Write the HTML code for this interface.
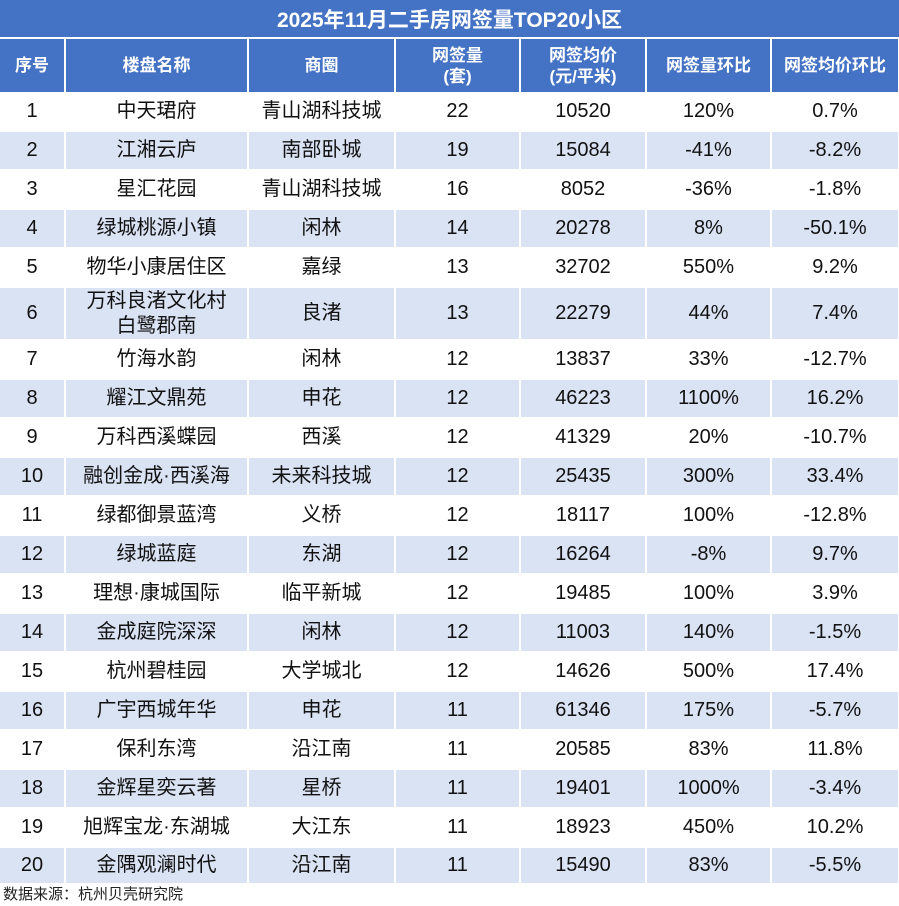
<!DOCTYPE html>
<html><head><meta charset="utf-8"><style>
body{margin:0;width:899px;height:906px;background:#fff;position:relative;overflow:hidden;font-family:"Liberation Sans","Noto Sans CJK SC",sans-serif;}
.c{position:absolute;display:flex;align-items:center;justify-content:center;text-align:center;box-sizing:border-box;}
.t{left:0;top:0;width:899px;height:37px;background:#4472c4;color:#fff;font-weight:bold;font-size:21px;}
.h{background:#4472c4;color:#fff;font-weight:bold;font-size:17px;line-height:21px;}
.d{font-size:20px;color:#111;line-height:25px;}
.b{background:#dae3f3;}
.f{position:absolute;left:3px;top:883px;font-size:15px;color:#222;}
</style></head><body>
<div class="c t">2025年11月二手房网签量TOP20小区</div>
<div id="g"></div>
<div class="f">数据来源：杭州贝壳研究院</div>
<script>
var cols=[[0,64],[66,247],[249,394],[396,519],[521,645],[647,770],[772,898]];
var H=["序号","楼盘名称","商圈","网签量<br>(套)","网签均价<br>(元/平米)","网签量环比","网签均价环比"];
var D=[
["1","中天珺府","青山湖科技城","22","10520","120%","0.7%"],
["2","江湘云庐","南部卧城","19","15084","-41%","-8.2%"],
["3","星汇花园","青山湖科技城","16","8052","-36%","-1.8%"],
["4","绿城桃源小镇","闲林","14","20278","8%","-50.1%"],
["5","物华小康居住区","嘉绿","13","32702","550%","9.2%"],
["6","万科良渚文化村<br>白鹭郡南","良渚","13","22279","44%","7.4%"],
["7","竹海水韵","闲林","12","13837","33%","-12.7%"],
["8","耀江文鼎苑","申花","12","46223","1100%","16.2%"],
["9","万科西溪蝶园","西溪","12","41329","20%","-10.7%"],
["10","融创金成·西溪海","未来科技城","12","25435","300%","33.4%"],
["11","绿都御景蓝湾","义桥","12","18117","100%","-12.8%"],
["12","绿城蓝庭","东湖","12","16264","-8%","9.7%"],
["13","理想·康城国际","临平新城","12","19485","100%","3.9%"],
["14","金成庭院深深","闲林","12","11003","140%","-1.5%"],
["15","杭州碧桂园","大学城北","12","14626","500%","17.4%"],
["16","广宇西城年华","申花","11","61346","175%","-5.7%"],
["17","保利东湾","沿江南","11","20585","83%","11.8%"],
["18","金辉星奕云著","星桥","11","19401","1000%","-3.4%"],
["19","旭辉宝龙·东湖城","大江东","11","18923","450%","10.2%"],
["20","金隅观澜时代","沿江南","11","15490","83%","-5.5%"]];
var s="";
cols.forEach(function(c,j){s+='<div class="c h" style="left:'+c[0]+'px;top:39px;width:'+(c[1]-c[0])+'px;height:53px">'+H[j]+'</div>';});
var y=93;
D.forEach(function(r,i){var h=(i==5)?51:37;if(i==19)h=35;var cls=(i%2==1)?"c d b":"c d";
cols.forEach(function(c,j){s+='<div class="'+cls+'" style="left:'+c[0]+'px;top:'+y+'px;width:'+(c[1]-c[0])+'px;height:'+h+'px">'+r[j]+'</div>';});
y+=h+2;});
document.getElementById("g").innerHTML=s;
</script>
</body></html>
